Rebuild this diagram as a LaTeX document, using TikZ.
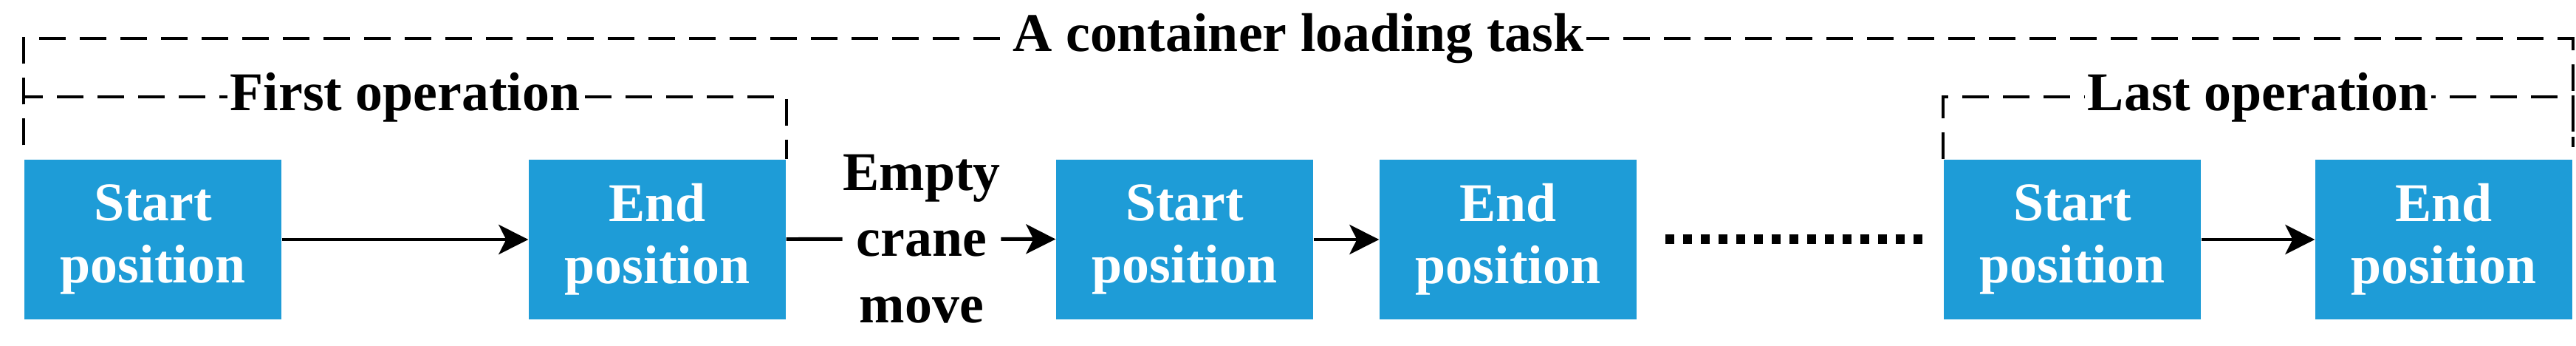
\documentclass[tikz,border=0pt]{standalone}
\usepackage{fontspec}
\setmainfont{Liberation Serif}
\usetikzlibrary{arrows.meta}
\definecolor{posblue}{RGB}{30,156,215}
\begin{document}
\begin{tikzpicture}[
        posbox/.style={fill=posblue, text=white, minimum width=3.48cm, minimum height=2.16cm, inner sep=0pt, align=center, font=\fontsize{21}{24}\selectfont\bfseries},
        move/.style={-{Stealth[length=4mm,width=4mm,inset=1mm]}, line width=1.4pt},
        bracket/.style={line width=1.1pt, dash pattern=on 0.36cm off 0.19cm},
        tag/.style={fill=white, inner sep=1pt, font=\fontsize{21}{24}\selectfont\bfseries}]
        \useasboundingbox (0,0) rectangle (34.88,4.68);
        \node[posbox] (s1) at (2.07,1.44) {Start\\position};
        \node[posbox] (e1) at (8.90,1.44) {End\\position};
        \node[align=center, inner sep=0pt, font=\fontsize{21}{25.5}\selectfont\bfseries] (mv) at (12.48,1.45) {Empty\\crane\\move};
        \node[posbox] (s2) at (16.04,1.44) {Start\\position};
        \node[posbox] (e2) at (20.42,1.44) {End\\position};
        \node[posbox] (s3) at (28.06,1.44) {Start\\position};
        \node[posbox] (e3) at (33.09,1.44) {End\\position};
        \draw[move] (s1) -- (e1);
        \draw[line width=1.4pt] (e1) -- (mv);
        \draw[move] (mv) -- (s2);
        \draw[move] (s2) -- (e2);
        \draw[line width=3.7pt, dash pattern=on 0.12cm off 0.12cm, shorten <=0.38cm, shorten >=0.18cm] (e2) -- (s3);
        \draw[move] (s3) -- (e3);
        % operation brackets
        \draw[bracket] ([yshift=0.19cm]s1.north west) -- ++(0,0.65) -| node[tag, pos=0.25] {First operation} (e1.north east);
        \draw[bracket] (s3.north west) -- ++(0,0.84) -| node[tag, pos=0.25] {Last operation} ([yshift=0.16cm]e3.north east);
        \draw[bracket] ([yshift=0.19cm]s1.north west) -- ++(0,1.44) -| node[tag, pos=0.25] {A container loading task} ([yshift=0.16cm]e3.north east);
\end{tikzpicture}
\end{document}
